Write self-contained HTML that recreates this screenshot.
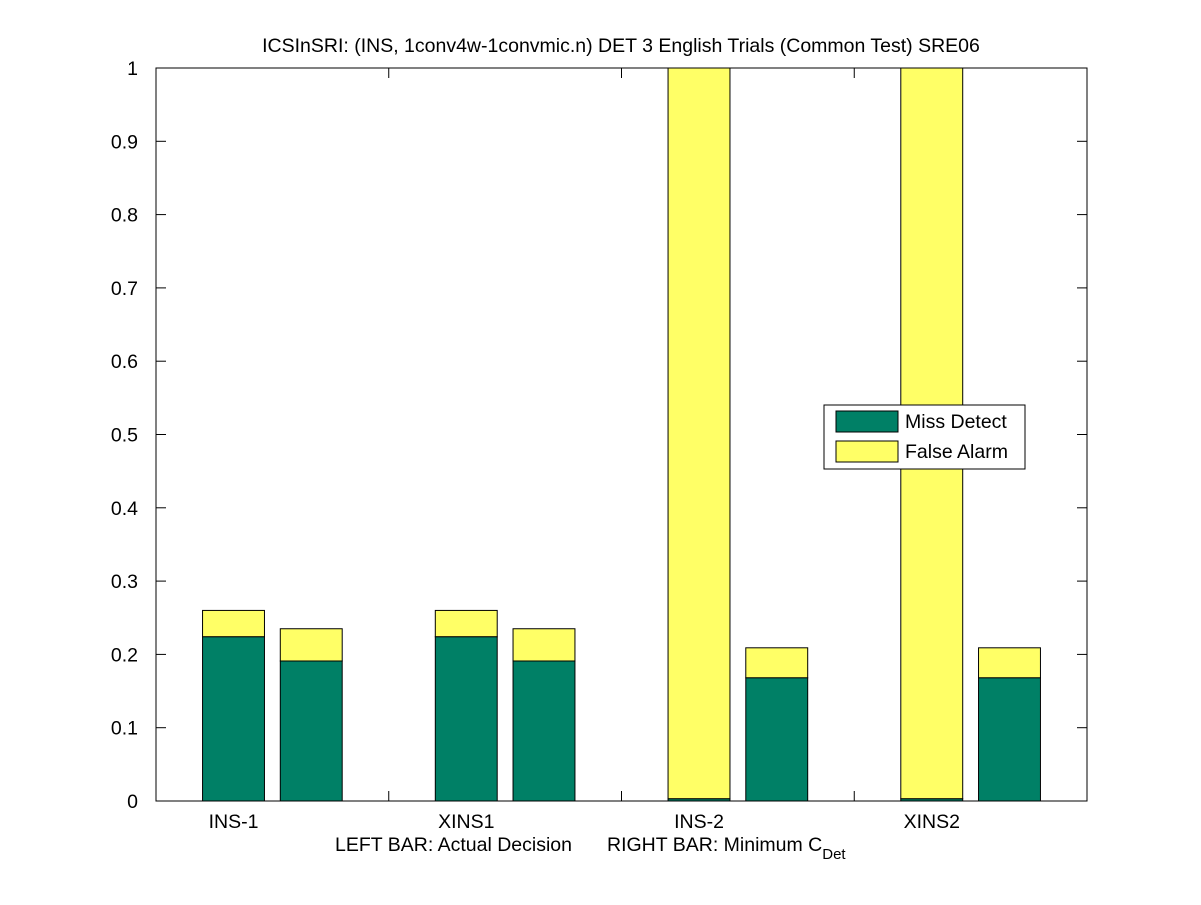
<!DOCTYPE html>
<html><head><meta charset="utf-8"><style>
body{margin:0;background:#fff;}
svg text{font-family:"Liberation Sans",sans-serif;font-size:19.5px;fill:#000;}
</style></head><body>
<svg id="chart" width="1201" height="900">
<rect x="0" y="0" width="1201" height="900" fill="#fff"/>
<text x="621" y="52" text-anchor="middle">ICSInSRI: (INS, 1conv4w-1convmic.n) DET 3 English Trials (Common Test) SRE06</text>
<rect x="156" y="68" width="931" height="733" fill="#fff" stroke="#000" stroke-width="1"/>
<g id="bars"></g>
<g id="axes"></g>
<text x="335" y="851"><tspan x="335">LEFT BAR: Actual Decision</tspan><tspan x="607">RIGHT BAR: Minimum C</tspan><tspan dy="8" font-size="15">Det</tspan></text>
<g>
<rect x="824" y="405" width="201" height="64" fill="#fff" stroke="#000"/>
<rect x="836" y="411" width="62" height="21" fill="#008066" stroke="#000"/>
<text x="905" y="428">Miss Detect</text>
<rect x="836" y="441" width="62" height="21" fill="#ffff66" stroke="#000"/>
<text x="905" y="458">False Alarm</text>
</g>
</svg>
<script>
const categories=["INS-1","XINS1","INS-2","XINS2"];
const actualMiss=[0.224,0.224,0.003,0.003];
const actualTotal=[0.26,0.26,1.0,1.0];
const minMiss=[0.191,0.191,0.168,0.168];
const minTotal=[0.235,0.235,0.209,0.209];
const yTicks=[0,0.1,0.2,0.3,0.4,0.5,0.6,0.7,0.8,0.9,1];
const yTickLabels=["0","0.1","0.2","0.3","0.4","0.5","0.6","0.7","0.8","0.9","1"];
const NS="http://www.w3.org/2000/svg";
const X0=156,X1=1087,Y0=801,Y1=68;
function xs(v){return X0+(X1-X0)*v/categories.length;}
function ys(v){return Y0-(Y0-Y1)*v;}
const bars=document.getElementById('bars'),axes=document.getElementById('axes');
function rect(x,y,w,h,fill,name){const r=document.createElementNS(NS,'rect');
r.setAttribute('x',x);r.setAttribute('y',y);r.setAttribute('width',w);r.setAttribute('height',Math.max(h,0));
r.setAttribute('fill',fill);r.setAttribute('stroke','#000');r.setAttribute('stroke-width','1');


bars.appendChild(r);}
function line(x1,y1,x2,y2){const l=document.createElementNS(NS,'line');
l.setAttribute('x1',x1);l.setAttribute('y1',y1);l.setAttribute('x2',x2);l.setAttribute('y2',y2);l.setAttribute('stroke','#000');


axes.appendChild(l);}
function text(x,y,s,anchor,name){const t=document.createElementNS(NS,'text');
t.setAttribute('x',x);t.setAttribute('y',y);t.setAttribute('text-anchor',anchor);t.textContent=s;


axes.appendChild(t);}
const bw=0.266;
categories.forEach((c,i)=>{
  const pairs=[[i+0.333,actualMiss[i],actualTotal[i],'actual'],[i+0.667,minMiss[i],minTotal[i],'min']];
  pairs.forEach(([cx,m,t,k])=>{
    const xl=xs(cx-bw/2),w=xs(cx+bw/2)-xl;
    rect(xl,ys(t),w,ys(m)-ys(t),'#ffff66',c.toLowerCase()+'-'+k+'-false-alarm');
    rect(xl,ys(m),w,ys(0)-ys(m),'#008066',c.toLowerCase()+'-'+k+'-miss');
  });
  text(xs(i+0.333),828,c,'middle','x-tick-label');
  if(i>0){line(xs(i),Y0,xs(i),Y0-10);line(xs(i),Y1,xs(i),Y1+10);}
});
yTicks.forEach((v,i)=>{
  const y=ys(v);
  line(X0,y,X0+10,y);line(X1,y,X1-10,y);
  text(X0-18,y+7,yTickLabels[i],'end','y-tick-label');
});
</script>
</body></html>
